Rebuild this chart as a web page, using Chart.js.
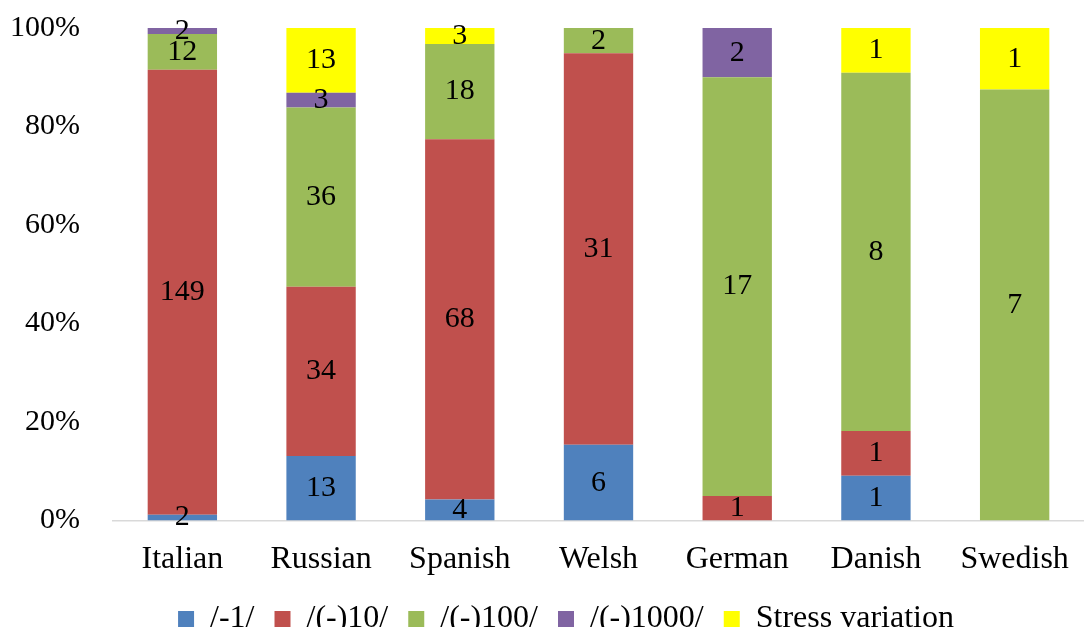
<!DOCTYPE html>
<html lang="en">
  <head>
    <meta charset="UTF-8" />
    <title>Stress types</title>
    <script src="https://cdn.jsdelivr.net/npm/chart.js"></script>
    <style>
      html, body { margin: 0; padding: 0; overflow: hidden; background: #fff; }
    </style>
  </head>
  <body>
    <canvas id="stressChart" width="1084" height="660"></canvas>

    <script>
      const languages = ["Italian", "Russian", "Spanish", "Welsh", "German", "Danish", "Swedish"];
      const minus1 = [2, 13, 4, 6, 0, 1, 0];
      const minus10 = [149, 34, 68, 31, 1, 1, 0];
      const minus100 = [12, 36, 18, 2, 17, 8, 7];
      const minus1000 = [2, 3, 0, 0, 2, 0, 0];
      const stressVariation = [0, 13, 3, 0, 0, 1, 1];

      const seriesNames = ["/-1/", "/(-)10/", "/(-)100/", "/(-)1000/", "Stress variation"];
      const seriesCounts = [minus1, minus10, minus100, minus1000, stressVariation];
      const seriesColors = ["#4F81BD", "#C0504D", "#9BBB59", "#8064A2", "#FFFF00"];

      const totals = languages.map((_, i) =>
        seriesCounts.reduce((sum, s) => sum + s[i], 0)
      );

      const font = "'Liberation Serif', 'Times New Roman', serif";

      // draw the raw count in the middle of each segment
      const countLabels = {
        id: "countLabels",
        afterDatasetsDraw(chart) {
          const ctx = chart.ctx;
          ctx.save();
          ctx.fillStyle = "#000";
          ctx.font = "30px " + font;
          ctx.textAlign = "center";
          ctx.textBaseline = "middle";
          chart.data.datasets.forEach((ds, di) => {
            const meta = chart.getDatasetMeta(di);
            meta.data.forEach((bar, i) => {
              const count = ds.counts[i];
              if (!count) return;
              const mid = (bar.y + bar.base) / 2;
              ctx.fillText(count, bar.x, mid);
            });
          });
          ctx.restore();
        },
      };

      // legend sits a little right of the canvas centre in the original
      const legendShift = {
        id: "legendShift",
        afterLayout(chart) {
          chart.legend.left += 22;
          chart.legend.right += 22;
        },
      };

      const datasets = seriesNames.map((name, k) => ({
        label: name,
        counts: seriesCounts[k],
        data: seriesCounts[k].map((v, i) => (v / totals[i]) * 100),
        backgroundColor: seriesColors[k],
        borderWidth: 0,
        categoryPercentage: 1,
        barPercentage: 0.5,
      }));

      new Chart(document.getElementById("stressChart").getContext("2d"), {
        type: "bar",
        data: { labels: languages, datasets: datasets },
        plugins: [countLabels, legendShift],
        options: {
          responsive: false,
          animation: false,
          layout: { padding: { left: 4, right: 0, top: 28, bottom: 15 } },
          scales: {
            x: {
              stacked: true,
              grid: { display: false },
              border: { display: true, color: "#d9d9d9", width: 1.5 },
              afterFit: (scale) => { scale.height -= 8; },
              ticks: { color: "#000", font: { family: font, size: 32 }, padding: 12 },
            },
            y: {
              stacked: true,
              min: 0,
              max: 100,
              grid: { display: false, drawTicks: false },
              border: { display: false },
              afterFit: (scale) => {
                scale.width = 109;
                scale.paddingTop = 0;
                scale.paddingBottom = 0;
              },
              ticks: {
                stepSize: 20,
                color: "#000",
                padding: 33,
                font: { family: font, size: 30 },
                callback: (v) => v + "%",
              },
            },
          },
          plugins: {
            legend: {
              position: "bottom",
              labels: {
                color: "#000",
                boxWidth: 16,
                boxHeight: 16,
                padding: 20,
                font: { family: font, size: 32 },
              },
            },
            tooltip: { enabled: false },
          },
        },
      });
    </script>
  </body>
</html>
